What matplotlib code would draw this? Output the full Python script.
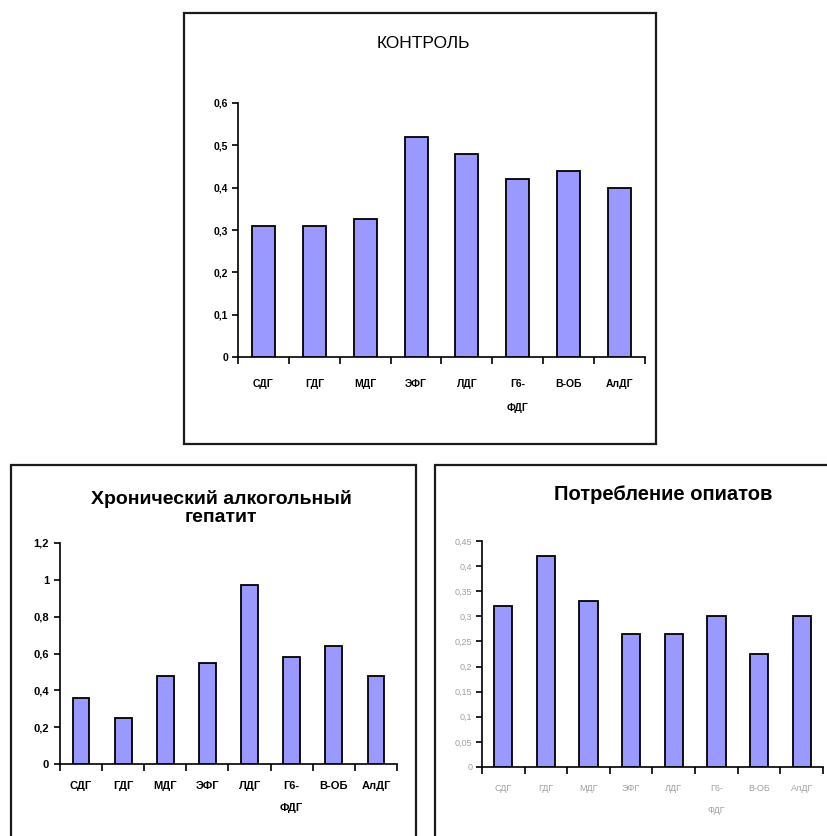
import numpy as np
import matplotlib
matplotlib.use("Agg")
import matplotlib.pyplot as plt
from matplotlib.patches import Rectangle

plt.rcParams['font.family'] = ['Liberation Sans', 'DejaVu Sans']

# data
categories = ['СДГ', 'ГДГ', 'МДГ', 'ЭФГ', 'ЛДГ', 'Г6-\nФДГ', 'В-ОБ', 'АлДГ']
control = [0.31, 0.31, 0.325, 0.52, 0.48, 0.42, 0.44, 0.40]
hepatitis = [0.36, 0.25, 0.48, 0.55, 0.97, 0.58, 0.64, 0.48]
opiates = [0.32, 0.42, 0.33, 0.265, 0.265, 0.30, 0.225, 0.30]

W, H = 828, 836
BAR_COLOR = '#9999ff'

fig = plt.figure(figsize=(W / 100, H / 100), dpi=100)


def px_axes(x0, y0, x1, y1):
    """axes from pixel box (top-left origin)"""
    return fig.add_axes([x0 / W, 1 - y1 / H, (x1 - x0) / W, (y1 - y0) / H])


def frame(x0, y0, x1, y1):
    fig.patches.append(Rectangle((x0 / W, 1 - y1 / H), (x1 - x0) / W, (y1 - y0) / H,
                                 transform=fig.transFigure, fill=False,
                                 lw=1.6, ec='#1a1a1a', clip_on=False))


def decimal(v):
    return f'{round(v, 2):g}'.replace('.', ',')


def bar_panel(ax, values, ymax, step, width, fs, xpad, ypad,
              color='black', weight='bold', spacing=2.4):
    n = len(values)
    ax.bar(range(n), values, width=width, color=BAR_COLOR,
           edgecolor='black', linewidth=1.3, zorder=3)
    ax.set_xlim(-0.5, n - 0.5)
    ax.set_ylim(0, ymax)
    for side in ('top', 'right'):
        ax.spines[side].set_visible(False)
    for side in ('left', 'bottom'):
        ax.spines[side].set_linewidth(1.2)

    yt = np.arange(0, ymax + step / 2, step)
    ax.set_yticks(yt)
    ax.set_yticklabels([decimal(v) for v in yt], fontsize=fs, color=color,
                       fontweight=weight)
    ax.tick_params(axis='y', direction='out', length=4, width=1.2, pad=ypad)

    ax.set_xticks(range(n))
    ax.set_xticklabels(categories, fontsize=fs, color=color, fontweight=weight,
                       va='top')
    for lbl in ax.get_xticklabels():
        lbl.set_linespacing(spacing)
    ax.set_xticks(np.arange(-0.5, n), minor=True)
    ax.tick_params(axis='x', which='major', length=0, pad=xpad)
    ax.tick_params(axis='x', which='minor', direction='out', length=5, width=1.2)


# top panel: control
frame(184, 13, 656, 444)
fig.text(423 / W, 1 - 43 / H, 'КОНТРОЛЬ', ha='center', va='center', fontsize=12.5)
ax1 = px_axes(238, 103, 645, 357)
bar_panel(ax1, control, 0.6, 0.1, 0.45, 7.5, 16, 3, spacing=2.7)

# bottom left: chronic alcoholic hepatitis
frame(11, 465, 416, 860)
fig.text(221 / W, 1 - 508 / H, 'Хронический алкогольный\nгепатит', ha='center',
         va='center', fontsize=14, fontweight='bold', linespacing=1.15)
ax2 = px_axes(60, 543, 397, 764)
bar_panel(ax2, hepatitis, 1.2, 0.2, 0.4, 8, 12, 4, spacing=2.5)

# bottom right: opiate use
frame(435, 465, 860, 860)
fig.text(663 / W, 1 - 495 / H, 'Потребление опиатов', ha='center', va='center',
         fontsize=14.5, fontweight='bold')
ax3 = px_axes(482, 541, 823, 767)
bar_panel(ax3, opiates, 0.45, 0.05, 0.43, 6.5, 12, 3,
          color='#a0a0a0', weight='normal', spacing=2.9)

fig.savefig('out.png', dpi=100)
